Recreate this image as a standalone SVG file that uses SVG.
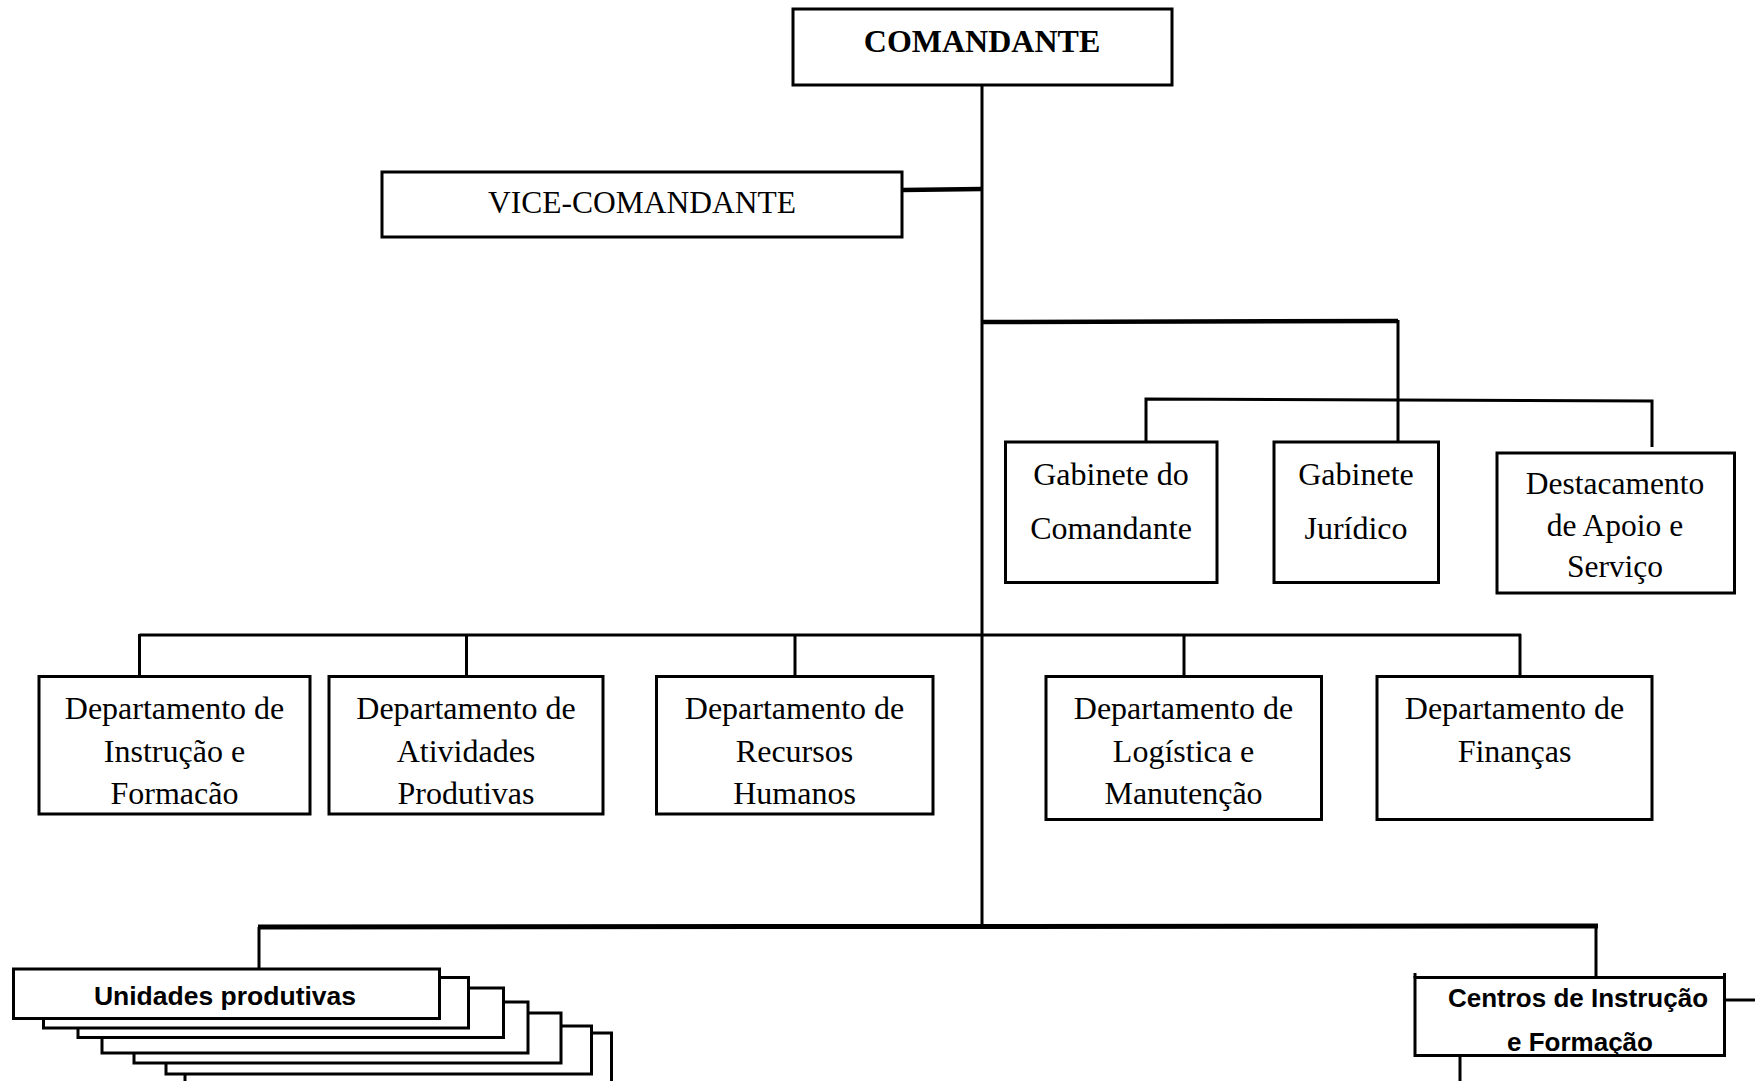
<svg xmlns="http://www.w3.org/2000/svg" width="1755" height="1081" viewBox="0 0 1755 1081">
<style>
.box{fill:#fff;stroke:#000;stroke-width:3}
.ln{fill:none;stroke:#000;stroke-width:3}
.thick{stroke-width:4.5}
.serif{font-family:"Liberation Serif","Times New Roman",serif;fill:#000;text-anchor:middle}
.b{font-weight:bold}
.dep{font-size:32px}
.sans{font-family:"Liberation Sans",Arial,sans-serif;font-weight:bold;fill:#000;text-anchor:middle}
</style>
<rect width="1755" height="1081" fill="#fff"/>
<g id="connectors">
  <line class="ln" x1="982" y1="85" x2="982" y2="928"/>
  <line class="ln thick" x1="902" y1="190" x2="982" y2="189"/>
  <polyline class="ln thick" points="982,322 1398,321"/>
  <line class="ln" x1="1398" y1="320" x2="1398" y2="441"/>
  <polyline class="ln" points="1146,441 1146,399 1652,401 1652,447"/>
  <line class="ln" x1="139.5" y1="635" x2="1521" y2="635"/>
  <line class="ln" x1="139.5" y1="634" x2="139.5" y2="676"/>
  <line class="ln" x1="466.5" y1="635" x2="466.5" y2="676"/>
  <line class="ln" x1="795" y1="635" x2="795" y2="676"/>
  <line class="ln" x1="1184" y1="635" x2="1184" y2="676"/>
  <line class="ln" x1="1520" y1="634" x2="1520" y2="676"/>
  <line class="ln" x1="258" y1="927" x2="1598" y2="926" style="stroke-width:5"/>
  <line class="ln" x1="259" y1="927" x2="259" y2="969"/>
  <line class="ln" x1="1596" y1="926" x2="1596" y2="977"/>
  <line class="ln" x1="1725" y1="1000" x2="1755" y2="1000"/>
  <line class="ln" x1="1460" y1="1056" x2="1460" y2="1081"/>
</g>
<g id="comandante">
  <rect class="box" x="793" y="9" width="379" height="76"/>
  <text class="serif b" x="982" y="52" font-size="32">COMANDANTE</text>
</g>
<g id="vice-comandante">
  <rect class="box" x="382" y="172" width="520" height="65"/>
  <text class="serif" x="642" y="213" font-size="31.5">VICE-COMANDANTE</text>
</g>
<g id="gabinete-comandante">
  <rect class="box" x="1005.5" y="442" width="211.5" height="140.5"/>
  <text class="serif" x="1111" y="485" font-size="32">Gabinete do</text>
  <text class="serif" x="1111" y="539" font-size="32">Comandante</text>
</g>
<g id="gabinete-juridico">
  <rect class="box" x="1274" y="442" width="164.5" height="140.5"/>
  <text class="serif" x="1356" y="485" font-size="32">Gabinete</text>
  <text class="serif" x="1356" y="539" font-size="32">Jurídico</text>
</g>
<g id="destacamento">
  <rect class="box" x="1497" y="453" width="237.5" height="140"/>
  <text class="serif" x="1615" y="494" font-size="31.5">Destacamento</text>
  <text class="serif" x="1615" y="536" font-size="31.5">de Apoio e</text>
  <text class="serif" x="1615" y="577" font-size="31.5">Serviço</text>
</g>
<g id="dep-instrucao">
  <rect class="box" x="39" y="676.5" width="271" height="137.5"/>
  <text class="serif dep" x="174.5" y="719">Departamento de</text>
  <text class="serif dep" x="174.5" y="762">Instrução e</text>
  <text class="serif dep" x="174.5" y="804">Formacão</text>
</g>
<g id="dep-atividades">
  <rect class="box" x="329" y="676.5" width="274" height="137.5"/>
  <text class="serif dep" x="466" y="719">Departamento de</text>
  <text class="serif dep" x="466" y="762">Atividades</text>
  <text class="serif dep" x="466" y="804">Produtivas</text>
</g>
<g id="dep-recursos">
  <rect class="box" x="656.5" y="676.5" width="276.5" height="137.5"/>
  <text class="serif dep" x="794.5" y="719">Departamento de</text>
  <text class="serif dep" x="794.5" y="762">Recursos</text>
  <text class="serif dep" x="794.5" y="804">Humanos</text>
</g>
<g id="dep-logistica">
  <rect class="box" x="1046" y="676.5" width="275.5" height="143"/>
  <text class="serif dep" x="1183.5" y="719">Departamento de</text>
  <text class="serif dep" x="1183.5" y="762">Logística e</text>
  <text class="serif dep" x="1183.5" y="804">Manutenção</text>
</g>
<g id="dep-financas">
  <rect class="box" x="1377" y="676.5" width="275" height="143"/>
  <text class="serif dep" x="1514.5" y="719">Departamento de</text>
  <text class="serif dep" x="1514.5" y="762">Finanças</text>
</g>
<g id="unidades-produtivas">
  <rect class="box" x="185" y="1033" width="426.5" height="60"/>
  <rect class="box" x="166" y="1026" width="425.5" height="48"/>
  <rect class="box" x="134" y="1013" width="427" height="50"/>
  <rect class="box" x="102" y="1002" width="426" height="51"/>
  <rect class="box" x="78" y="988" width="425.5" height="49.5"/>
  <rect class="box" x="43.5" y="977.5" width="425" height="50.5"/>
  <rect class="box" x="13.5" y="969" width="426" height="49.5"/>
  <text class="sans" x="225" y="1005" font-size="26.5">Unidades produtivas</text>
</g>
<g id="centros-instrucao">
  <rect class="box" x="1415" y="977.5" width="309.5" height="78"/>
  <line class="ln" x1="1415" y1="973" x2="1415" y2="978"/>
  <line class="ln" x1="1724.5" y1="973" x2="1724.5" y2="978"/>
  <text class="sans" x="1578" y="1006.5" font-size="26">Centros de Instrução</text>
  <text class="sans" x="1580" y="1051" font-size="26">e Formação</text>
</g>
</svg>
